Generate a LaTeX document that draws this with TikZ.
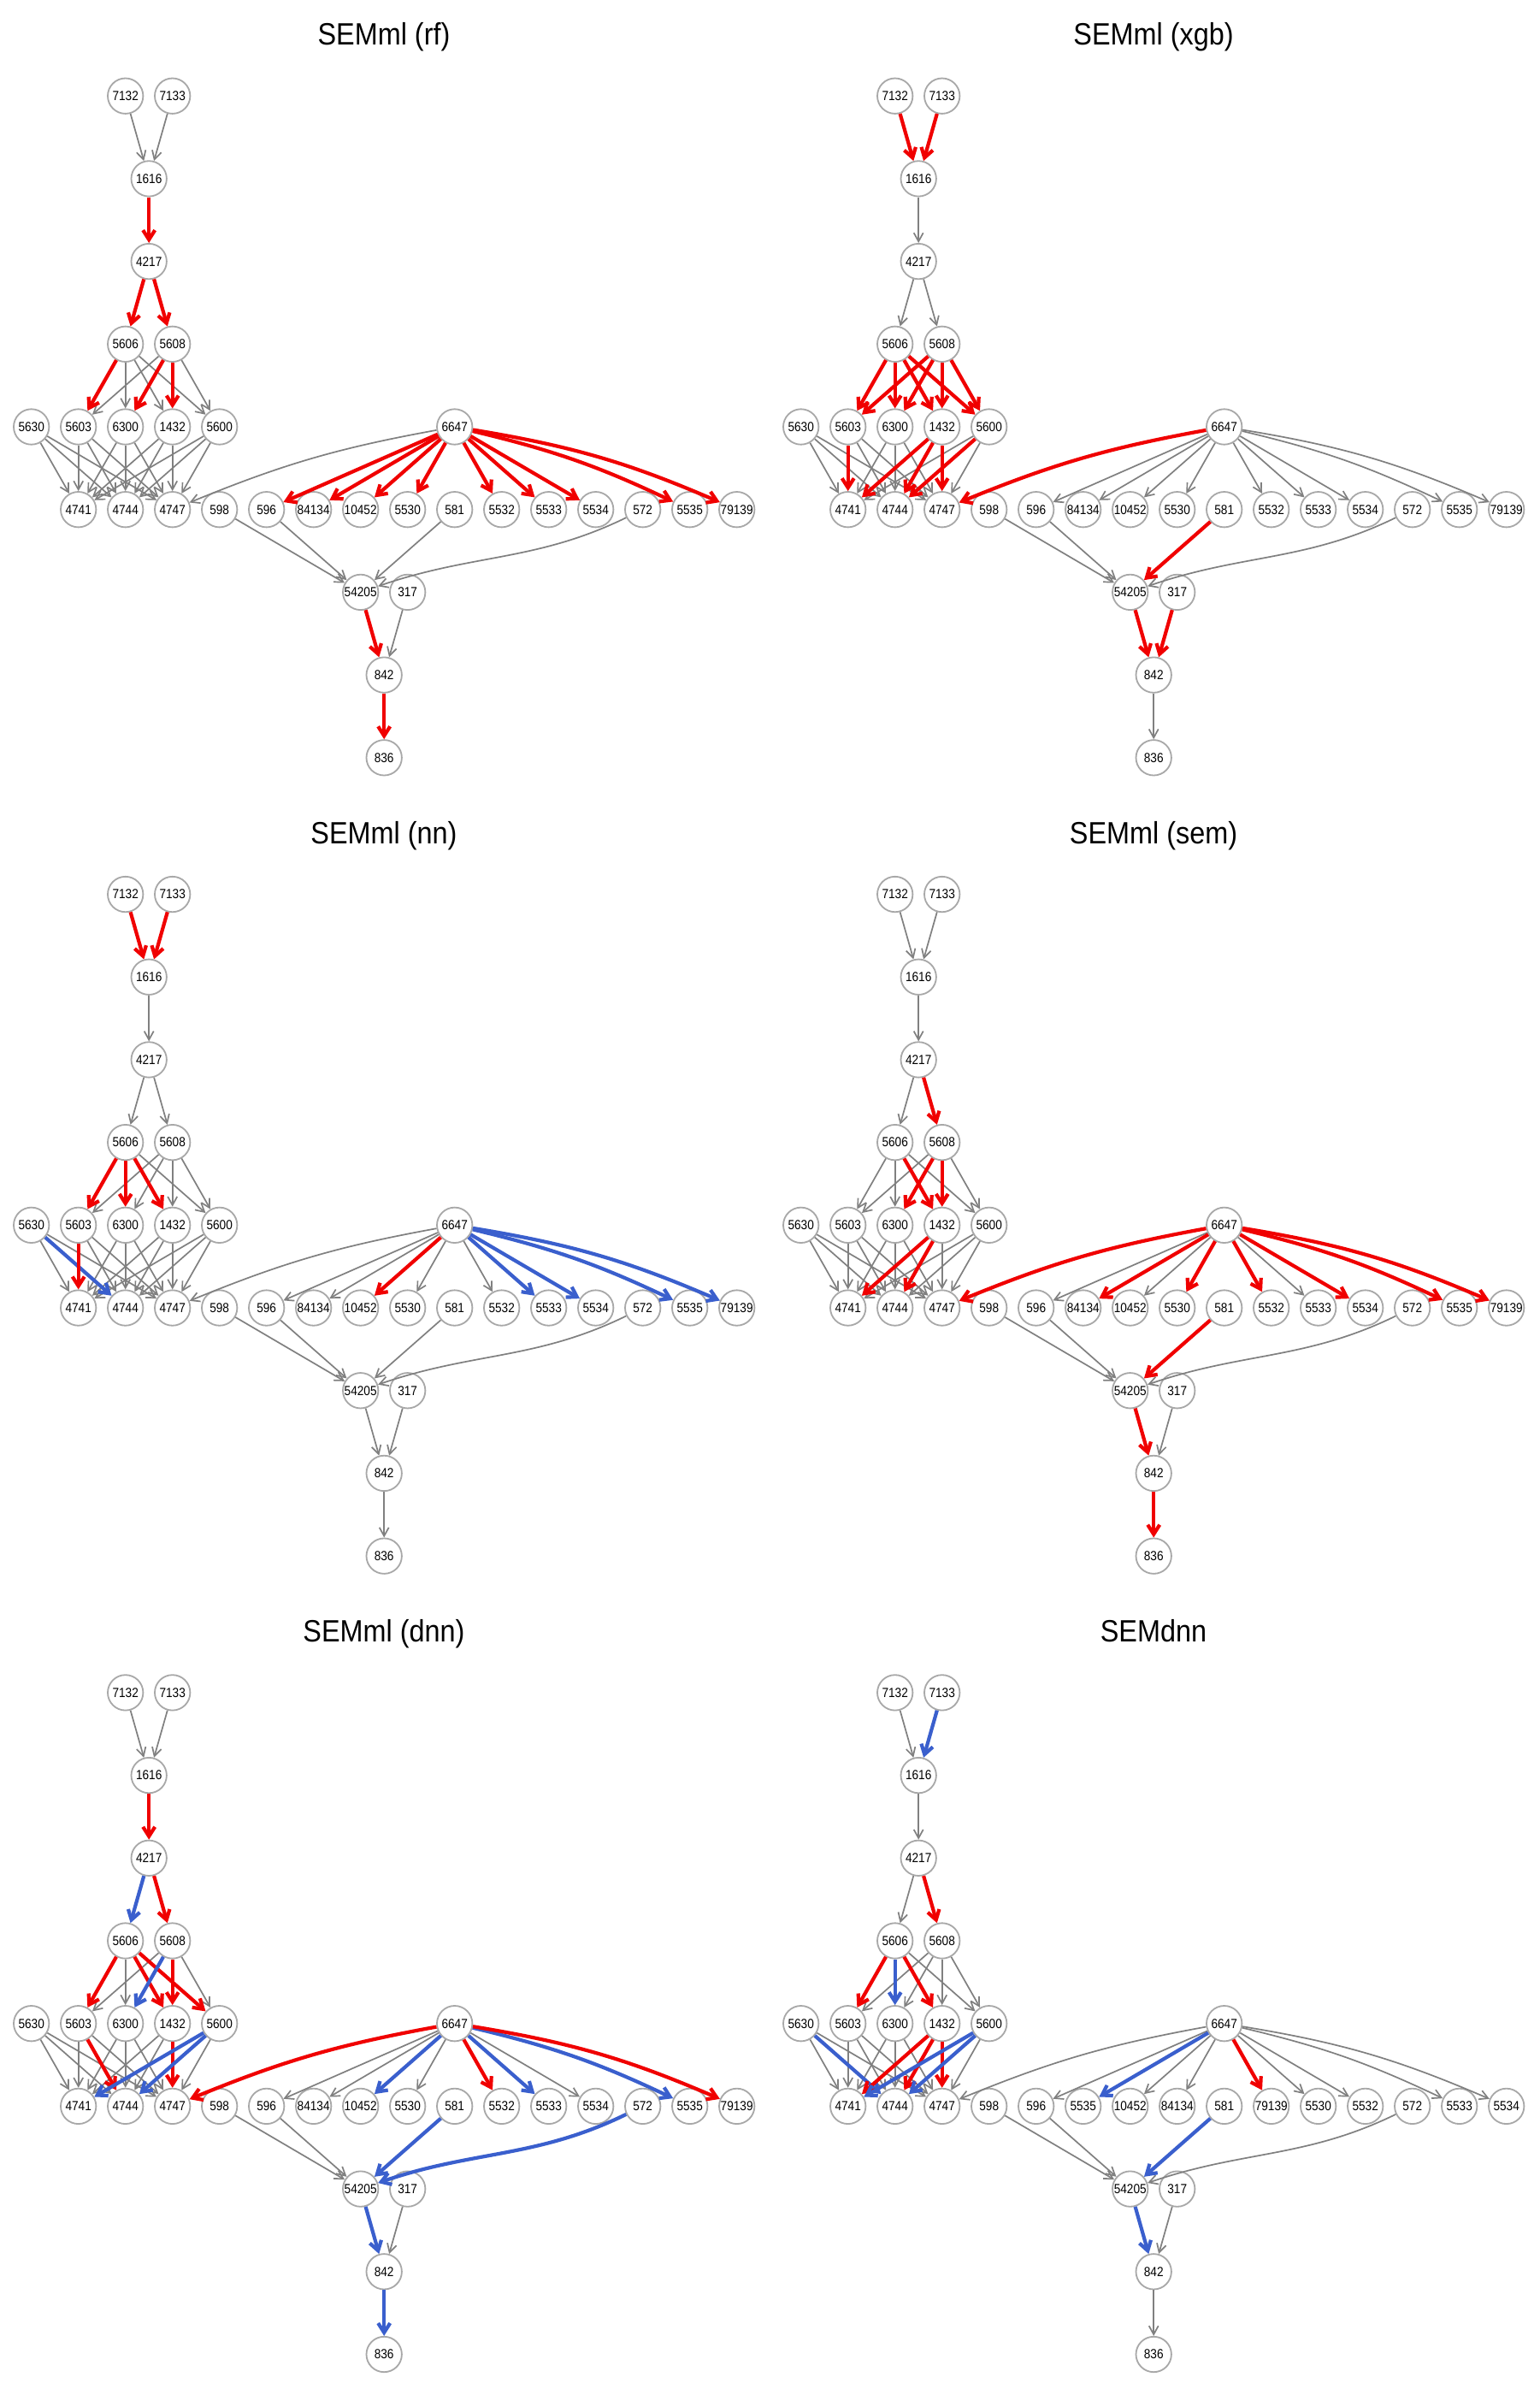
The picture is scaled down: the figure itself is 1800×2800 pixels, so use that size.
\documentclass[tikz,border=0pt]{standalone}
\usepackage{fontspec}
\setmainfont{Liberation Sans}
\usetikzlibrary{arrows.meta}
\definecolor{egray}{RGB}{128,128,128}
\definecolor{ngray}{RGB}{168,168,168}
\definecolor{ered}{RGB}{240,0,0}
\definecolor{eblue}{RGB}{58,95,205}
\tikzset{
 nd/.style={circle, draw=ngray, line width=1.8pt, fill=white, minimum size=41.4pt, inner sep=0pt, font=\fontsize{15.5}{15.5}\selectfont},
 ttl/.style={font=\fontsize{36}{36}\selectfont, inner sep=0pt, anchor=base},
 eG/.style={draw=egray, line width=1.7pt, -{Straight Barb[length=10pt,width=11pt]}},
 eR/.style={draw=ered, line width=4.2pt, -{Straight Barb[length=11pt,width=14pt]}},
 eB/.style={draw=eblue, line width=4.2pt, -{Straight Barb[length=11pt,width=14pt]}},
}
\newif\ifcolpass
\def\pf{A}
\newcommand\Ed[3][]{%
 \ifcsname pgfk@/tikz/ek#2-#3/.@cmd\endcsname
   \ifcolpass\draw[eG,ek#2-#3] (\pf#2) to[#1] (\pf#3);\fi
 \else
   \ifcolpass\else\draw[eG] (\pf#2) to[#1] (\pf#3);\fi
 \fi}
\newcommand\Col[3]{\tikzset{ek#1-#2/.style={e#3}}}
\newcommand\Nd[3]{\node[nd] (\pf#1) at ({36.7+55*#2},{-112.2-96.7*#3}) {\scalebox{0.88}[1]{#1}};}
\newcommand\basenodes{%
 \Nd{7132}{2}{0}\Nd{7133}{3}{0}
 \Nd{1616}{2.5}{1}
 \Nd{4217}{2.5}{2}
 \Nd{5606}{2}{3}\Nd{5608}{3}{3}
 \Nd{5630}{0}{4}\Nd{5603}{1}{4}\Nd{6300}{2}{4}\Nd{1432}{3}{4}\Nd{5600}{4}{4}\Nd{6647}{9}{4}
 \Nd{4741}{1}{5}\Nd{4744}{2}{5}\Nd{4747}{3}{5}
 \Nd{54205}{7}{6}\Nd{317}{8}{6}
 \Nd{842}{7.5}{7}
 \Nd{836}{7.5}{8}}
\newcommand\alledges{%
 \Ed{7132}{1616}\Ed{7133}{1616}\Ed{1616}{4217}\Ed{4217}{5606}\Ed{4217}{5608}%
 \Ed{5606}{5603}\Ed{5606}{6300}\Ed{5606}{1432}\Ed{5606}{5600}%
 \Ed{5608}{5603}\Ed{5608}{6300}\Ed{5608}{1432}\Ed{5608}{5600}%
 \Ed{5630}{4741}\Ed{5630}{4744}\Ed{5630}{4747}%
 \Ed{5603}{4741}\Ed{5603}{4744}\Ed{5603}{4747}%
 \Ed{6300}{4741}\Ed{6300}{4744}\Ed{6300}{4747}%
 \Ed{1432}{4741}\Ed{1432}{4744}\Ed{1432}{4747}%
 \Ed{5600}{4741}\Ed{5600}{4744}\Ed{5600}{4747}%
 \Ed{598}{54205}\Ed{596}{54205}\Ed{581}{54205}\Ed[out=206,in=19]{572}{54205}%
 \Ed{54205}{842}\Ed{317}{842}\Ed{842}{836}%
 \Ed[bend right=6]{6647}{4747}\Ed{6647}{596}\Ed{6647}{84134}\Ed{6647}{10452}\Ed{6647}{5530}\Ed{6647}{5532}}
\newcommand\fanA{\Ed{6647}{5533}\Ed{6647}{5534}\Ed[bend left=6]{6647}{5535}\Ed[bend left=7]{6647}{79139}}
\newcommand\fanB{\Ed[bend left=6]{6647}{5533}\Ed[bend left=7]{6647}{5534}\Ed{6647}{5535}\Ed{6647}{79139}}
\newcommand\drawpanel[3]{%
 \node[ttl] (\pf title) at (449,-52.7) {\scalebox{0.9}[1]{#1}};
 \basenodes
 \foreach \l [count=\k from 4] in #2 {\Nd{\l}{\k}{5}}
 \colpassfalse\alledges#3%
 \colpasstrue\alledges#3}
\def\rowA{598,596,84134,10452,5530,581,5532,5533,5534,572,5535,79139}
\def\rowB{598,596,5535,10452,84134,581,79139,5530,5532,572,5533,5534}
\begin{document}
\begin{tikzpicture}[x=1pt,y=1pt]
\fill[white] (0,0) rectangle (1800,-2800);
\useasboundingbox (0,0) rectangle (1800,-2800);
% rf
\begin{scope}
 \def\pf{A}
 \Col{1616}{4217}{R}\Col{4217}{5606}{R}\Col{4217}{5608}{R}\Col{5606}{5603}{R}\Col{5608}{6300}{R}\Col{5608}{1432}{R}%
 \Col{6647}{596}{R}\Col{6647}{84134}{R}\Col{6647}{10452}{R}\Col{6647}{5530}{R}\Col{6647}{5532}{R}\Col{6647}{5533}{R}%
 \Col{6647}{5534}{R}\Col{6647}{5535}{R}\Col{6647}{79139}{R}\Col{54205}{842}{R}\Col{842}{836}{R}%
 \drawpanel{SEMml (rf)}{\rowA}{\fanA}
\end{scope}
% xgb
\begin{scope}[shift={(900,0)}]
 \def\pf{B}
 \Col{7132}{1616}{R}\Col{7133}{1616}{R}%
 \Col{5606}{5603}{R}\Col{5606}{6300}{R}\Col{5606}{1432}{R}\Col{5606}{5600}{R}%
 \Col{5608}{5603}{R}\Col{5608}{6300}{R}\Col{5608}{1432}{R}\Col{5608}{5600}{R}%
 \Col{5603}{4741}{R}\Col{1432}{4741}{R}\Col{1432}{4744}{R}\Col{1432}{4747}{R}\Col{5600}{4744}{R}%
 \Col{6647}{4747}{R}\Col{581}{54205}{R}\Col{54205}{842}{R}\Col{317}{842}{R}%
 \drawpanel{SEMml (xgb)}{\rowA}{\fanA}
\end{scope}
% nn
\begin{scope}[shift={(0,-933.33)}]
 \def\pf{C}
 \Col{7132}{1616}{R}\Col{7133}{1616}{R}\Col{5606}{5603}{R}\Col{5606}{6300}{R}\Col{5606}{1432}{R}%
 \Col{5603}{4741}{R}\Col{6647}{10452}{R}%
 \Col{5630}{4744}{B}\Col{6647}{5533}{B}\Col{6647}{5534}{B}\Col{6647}{5535}{B}\Col{6647}{79139}{B}%
 \drawpanel{SEMml (nn)}{\rowA}{\fanA}
\end{scope}
% sem
\begin{scope}[shift={(900,-933.33)}]
 \def\pf{D}
 \Col{4217}{5608}{R}\Col{5606}{1432}{R}\Col{5608}{6300}{R}\Col{5608}{1432}{R}\Col{1432}{4741}{R}\Col{1432}{4744}{R}%
 \Col{6647}{4747}{R}\Col{6647}{84134}{R}\Col{6647}{5530}{R}\Col{6647}{5532}{R}\Col{6647}{5534}{R}\Col{6647}{5535}{R}%
 \Col{6647}{79139}{R}\Col{581}{54205}{R}\Col{54205}{842}{R}\Col{842}{836}{R}%
 \drawpanel{SEMml (sem)}{\rowA}{\fanA}
\end{scope}
% dnn
\begin{scope}[shift={(0,-1866.67)}]
 \def\pf{E}
 \Col{1616}{4217}{R}\Col{4217}{5608}{R}\Col{5606}{5603}{R}\Col{5606}{1432}{R}\Col{5606}{5600}{R}\Col{5608}{1432}{R}%
 \Col{5603}{4744}{R}\Col{1432}{4747}{R}\Col{6647}{4747}{R}\Col{6647}{5532}{R}\Col{6647}{79139}{R}%
 \Col{4217}{5606}{B}\Col{5608}{6300}{B}\Col{5600}{4741}{B}\Col{5600}{4744}{B}\Col{6647}{10452}{B}\Col{6647}{5533}{B}%
 \Col{6647}{5535}{B}\Col{581}{54205}{B}\Col{572}{54205}{B}\Col{54205}{842}{B}\Col{842}{836}{B}%
 \drawpanel{SEMml (dnn)}{\rowA}{\fanA}
\end{scope}
% SEMdnn
\begin{scope}[shift={(900,-1866.67)}]
 \def\pf{F}
 \Col{4217}{5608}{R}\Col{5606}{5603}{R}\Col{5606}{1432}{R}\Col{1432}{4741}{R}\Col{1432}{4744}{R}\Col{1432}{4747}{R}%
 \Col{6647}{79139}{R}%
 \Col{7133}{1616}{B}\Col{5606}{6300}{B}\Col{5630}{4744}{B}\Col{5600}{4741}{B}\Col{5600}{4744}{B}\Col{6647}{5535}{B}%
 \Col{581}{54205}{B}\Col{54205}{842}{B}%
 \drawpanel{SEMdnn}{\rowB}{\fanB}
\end{scope}
\end{tikzpicture}
\end{document}
